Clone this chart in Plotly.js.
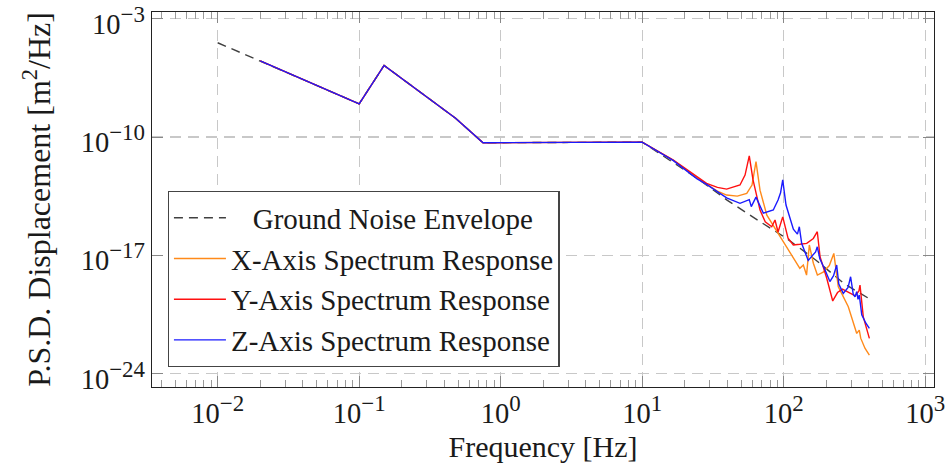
<!DOCTYPE html>
<html>
<head>
<meta charset="utf-8">
<script src="https://cdn.plot.ly/plotly-3.0.1.min.js"></script>
<style>
html, body { margin: 0; padding: 0; background: #ffffff; }
#chart { width: 945px; height: 471px; }
</style>
</head>
<body>
<div id="chart"></div>
<script>
// Ground noise envelope (dashed)
const envFreq = [0.01, 0.1, 0.15, 0.48, 0.75, 10, 25, 40, 65, 105, 170, 270, 400];
const envPsd  = [3.8e-5, 9.3e-9, 1.74e-6, 1.29e-9, 4.6e-11, 5.0e-11, 3.2e-13, 1.8e-14, 1.26e-15, 1.0e-16, 5.0e-18, 2.0e-19, 2.8e-20];

// X-axis spectrum response (orange)
const xFreq = [0.02, 0.1, 0.15, 0.48, 0.75, 10, 16.6, 22, 28.5, 34, 39.5, 47, 54.8, 59.7, 63.7, 68, 76, 90, 105, 117, 130, 137.6, 145, 151.7, 162, 173, 190, 210, 220, 226, 243, 286, 328, 342, 350, 375, 403];
const xPsd  = [3.2e-6, 9.3e-9, 1.74e-6, 1.29e-9, 4.6e-11, 5.0e-11, 4.2e-12, 7.1e-13, 1.6e-13, 6.3e-14, 3.7e-14, 3.2e-14, 4.7e-14, 1.45e-13, 3.5e-12, 7.2e-14, 2.4e-15, 2.5e-16, 3.2e-17, 6.3e-18, 1.7e-18, 2.7e-18, 6.8e-19, 4.1e-17, 3.4e-18, 6.8e-19, 1.0e-18, 2.5e-18, 6.3e-18, 1.3e-17, 1.4e-19, 9.1e-21, 2.4e-22, 3.8e-22, 1.26e-22, 3.2e-23, 1.26e-23];

// Y-axis spectrum response (red)
const yFreq = [0.02, 0.1, 0.15, 0.48, 0.75, 10, 16.6, 22, 28.5, 34, 39.5, 49.1, 53.3, 57.1, 60.7, 68, 74, 82.3, 86.8, 91.2, 98.4, 107.3, 116.9, 130, 145.4, 161.9, 172.7, 180.6, 201.4, 222, 240, 260, 290, 320, 340, 346, 365, 403];
const yPsd  = [3.2e-6, 9.3e-9, 1.74e-6, 1.29e-9, 4.6e-11, 5.0e-11, 4.4e-12, 7.9e-13, 1.8e-13, 1.05e-13, 8.3e-14, 1.45e-13, 5.6e-13, 7.8e-12, 2.9e-13, 4.8e-15, 9.8e-16, 4.9e-16, 1.23e-15, 2.4e-16, 1.9e-15, 1.05e-16, 4.1e-17, 4.5e-17, 5.1e-17, 1.0e-16, 2.5e-16, 8.3e-18, 4.4e-19, 2.0e-20, 6.3e-20, 1.0e-19, 6.3e-20, 4.0e-20, 7.9e-20, 1.74e-19, 2.3e-21, 1.23e-22];

// Z-axis spectrum response (blue)
const zFreq = [0.02, 0.1, 0.15, 0.48, 0.75, 10, 16.6, 24.3, 28.5, 39.5, 49.1, 57.1, 59.0, 63.7, 71.8, 84.4, 91.2, 95, 98.4, 103.8, 117, 125, 128.9, 134, 149, 160, 168, 172.7, 180, 195.9, 212, 225, 236.8, 245, 263.6, 285, 297, 310, 319, 328, 335, 342, 356, 380, 403];
const zPsd  = [3.2e-6, 9.3e-9, 1.74e-6, 1.29e-9, 4.6e-11, 5.0e-11, 4.0e-12, 3.5e-13, 1.6e-13, 2.5e-14, 1.2e-14, 2.0e-14, 7.6e-15, 2.8e-14, 3.1e-15, 4.8e-15, 1.86e-14, 5.0e-14, 2.9e-13, 9.5e-15, 3.5e-16, 1.8e-16, 4.9e-16, 5.0e-17, 5.0e-18, 1.0e-17, 1.6e-17, 3.2e-17, 6.3e-18, 1.35e-18, 2.8e-19, 6.3e-19, 2.7e-18, 2.0e-19, 5.6e-20, 1.26e-19, 5.4e-19, 5.0e-20, 3.5e-20, 7.1e-20, 2.5e-20, 4.5e-20, 3.0e-21, 1.0e-21, 4.8e-22];

// Axis ticks
const xTickVals = [0.01, 0.1, 1, 10, 100, 1000];
const xTickExp  = ['−2', '−1', '0', '1', '2', '3'];
const yTickVals = [1e-24, 1e-17, 1e-10, 1e-3];
const yTickExp  = ['−24', '−17', '−10', '−3'];
const supText = e => '10<sup><span style="font-size:115%">' + e + '</span></sup>';

const seriesNames = ['\u00a0\u00a0\u00a0Ground Noise Envelope', 'X-Axis Spectrum Response', 'Y-Axis Spectrum Response', 'Z-Axis Spectrum Response'];

// minor x ticks (2..9 within each decade)
const xMinor = [];
for (let e = -3; e <= 3; e++) {
  for (let m = 2; m <= 9; m++) xMinor.push(m * Math.pow(10, e));
}

const FONT = 'Liberation Serif, Times New Roman, serif';

const traces = [
  { x: envFreq, y: envPsd, name: seriesNames[0], mode: 'lines', type: 'scatter',
    line: { color: '#404040', width: 1.4, dash: '9px,6px' } },
  { x: xFreq, y: xPsd, name: seriesNames[1], mode: 'lines', type: 'scatter',
    line: { color: '#ff8a1a', width: 1.4 } },
  { x: yFreq, y: yPsd, name: seriesNames[2], mode: 'lines', type: 'scatter',
    line: { color: '#ff1010', width: 1.4 } },
  { x: zFreq, y: zPsd, name: seriesNames[3], mode: 'lines', type: 'scatter',
    line: { color: '#1a1aff', width: 1.4 } }
];

const gridStyle = { showgrid: true, gridcolor: '#c8c8c8', gridwidth: 1.2, griddash: '11px,7px' };

const layout = {
  width: 945, height: 471,
  margin: { l: 152, r: 11, t: 12, b: 84 },
  paper_bgcolor: '#ffffff', plot_bgcolor: '#ffffff',
  font: { family: FONT, size: 29, color: '#1a1a1a' },
  showlegend: true,
  legend: {
    x: 0.02, y: 0.053, xanchor: 'left', yanchor: 'bottom',
    bgcolor: '#ffffff', bordercolor: '#444444', borderwidth: 1.3,
    font: { family: FONT, size: 29, color: '#1a1a1a' },
    itemwidth: 52,
    tracegroupgap: 0
  },
  xaxis: Object.assign({
    type: 'log', range: [-2.464, 3.062],
    tickmode: 'array', tickvals: xTickVals, ticktext: xTickExp.map(supText),
    ticks: 'inside', ticklen: 11, tickcolor: '#888888', tickwidth: 1,
    showline: true, linecolor: '#222222', linewidth: 1.3, mirror: 'allticks',
    zeroline: false, ticklabeloverflow: 'allow',
    tickfont: { family: FONT, size: 28.5, color: '#1a1a1a' },
    minor: { tickmode: 'array', tickvals: xMinor, ticks: 'inside', ticklen: 7, tickcolor: '#9a9a9a', tickwidth: 1, showgrid: false },
    title: { text: 'Frequency [Hz]', font: { family: FONT, size: 30, color: '#1a1a1a' }, standoff: 8 }
  }, gridStyle),
  yaxis: Object.assign({
    type: 'log', range: [-24.79, -2.60],
    tickmode: 'array', tickvals: yTickVals, ticktext: yTickExp.map(supText),
    ticks: 'inside', ticklen: 11, tickcolor: '#888888', tickwidth: 1,
    showline: true, linecolor: '#222222', linewidth: 1.3, mirror: 'allticks',
    zeroline: false, ticklabeloverflow: 'allow', ticklabelshift: 5,
    tickfont: { family: FONT, size: 28.5, color: '#1a1a1a' },
    title: { text: 'P.S.D. Displacement [m<sup>2</sup>/Hz]', font: { family: FONT, size: 32, color: '#1a1a1a' }, standoff: 20 }
  }, gridStyle)
};

Plotly.newPlot('chart', traces, layout, { staticPlot: true, displayModeBar: false });
</script>
</body>
</html>
